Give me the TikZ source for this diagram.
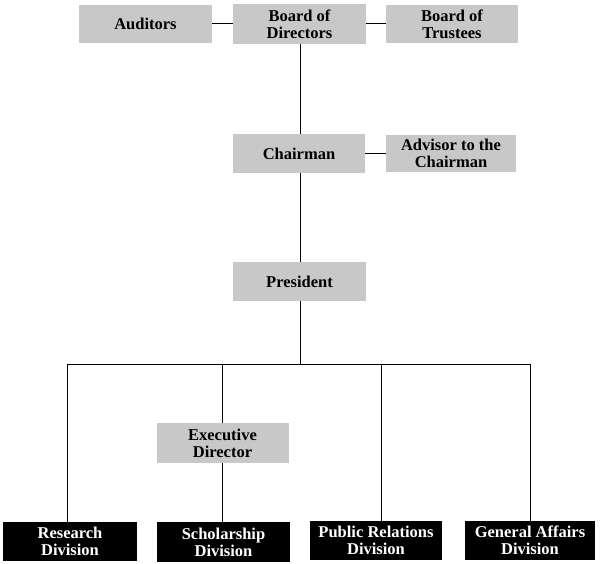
\documentclass[tikz,border=0pt]{standalone}
\usepackage{fontspec}
\setmainfont{Liberation Serif}
\definecolor{boxgray}{RGB}{200,200,200}
\tikzset{
  gbox/.style={fill=boxgray, draw=none, align=center, inner sep=0pt,
    font=\fontsize{16.5}{17}\selectfont\bfseries, text=black},
  bbox/.style={fill=black, draw=none, align=center, inner sep=0pt,
    font=\fontsize{16.5}{17}\selectfont\bfseries, text=white},
  conn/.style={draw=black, line width=1pt}
}
\begin{document}
\begin{tikzpicture}[x=1pt,y=1pt]
\useasboundingbox (0,0) rectangle (600,-564);
% top row
\node[gbox, minimum width=133pt, minimum height=38pt] (aud) at (145.5,-24) {Auditors};
\node[gbox, minimum width=133pt, minimum height=40pt] (bod) at (299.5,-24) {Board of\\Directors};
\node[gbox, minimum width=132pt, minimum height=38pt] (bot) at (452,-24) {Board of\\Trustees};
% chairman row
\node[gbox, minimum width=132pt, minimum height=39pt] (chair) at (299,-153.5) {Chairman};
\node[gbox, minimum width=130pt, minimum height=37pt] (adv) at (451,-153.5) {Advisor to the\\Chairman};
% president
\node[gbox, minimum width=133pt, minimum height=39pt] (pres) at (299.5,-281.5) {President};
% executive director
\node[gbox, minimum width=132pt, minimum height=40pt] (exec) at (222.5,-443) {Executive\\Director};
% divisions
\node[bbox, minimum width=134pt, minimum height=39pt] (res) at (70,-541.5) {Research\\Division};
\node[bbox, minimum width=133pt, minimum height=40pt] (sch) at (223.5,-542) {Scholarship\\Division};
\node[bbox, minimum width=132pt, minimum height=39pt] (pr) at (376,-540.5) {Public Relations\\Division};
\node[bbox, minimum width=130pt, minimum height=39pt] (ga) at (530,-540.5) {General Affairs\\Division};
% connectors
\coordinate (prtop) at ([xshift=5pt]pr.north);
\coordinate (restop) at ([xshift=-3pt]res.north);
\draw[conn] (aud.east) -- (bod.west);
\draw[conn] (bod.east) -- (bot.west);
\draw[conn] ([xshift=0.5pt]bod.south) -- ([xshift=1pt]chair.north);
\draw[conn] (chair.east) -- (adv.west);
\draw[conn] ([xshift=1pt]chair.south) -- ([xshift=0.5pt]pres.north);
\coordinate (bus) at (300,-364);
\draw[conn] ([xshift=0.5pt]pres.south) -- (bus);
\draw[conn] (bus) -| (restop);
\draw[conn] (bus) -| (ga.north);
\draw[conn] (bus -| exec.north) -- (exec.north);
\draw[conn] (exec.south) -- (exec.south |- sch.north);
\draw[conn] (bus -| prtop) -- (prtop);
\end{tikzpicture}
\end{document}
